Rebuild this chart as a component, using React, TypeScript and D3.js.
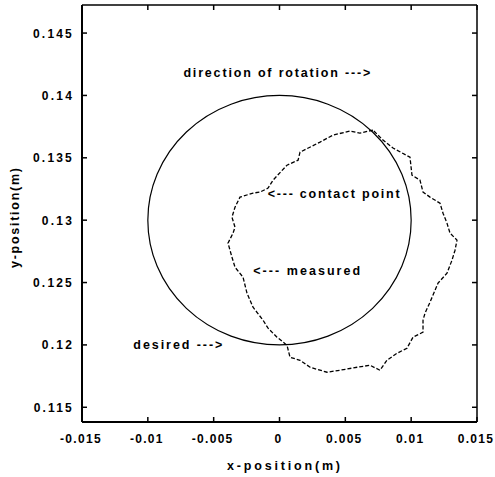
import React from 'react';
import * as d3 from 'd3';

// desired path: circle centred at (0, 0.13) with 0.01 m radius
const desiredCenter = [0, 0.13];
const desiredRadius = 0.01;

// measured contact point path
const measuredX = [
  0.0071, 0.0061, 0.00535, 0.00406, 0.00308, 0.00156, 0.00141, 0.00057, -0.00049, -0.00087,
  -0.00148, -0.00201, -0.003, -0.00338, -0.00361, -0.00338, -0.00353, -0.00391, -0.00361, -0.00338,
  -0.00277, -0.00247, -0.00201, -0.00125, -0.00087, -0.00019, 0.00057, 0.0008, 0.00156, 0.00232,
  0.00361, 0.0046, 0.00589, 0.00687, 0.00763, 0.00816, 0.00892, 0.00968, 0.01014, 0.0109,
  0.0109, 0.01105, 0.01143, 0.01204, 0.01272, 0.0131, 0.01333, 0.01348, 0.01295, 0.01272,
  0.01242, 0.01219, 0.01143, 0.0109, 0.01067, 0.01006, 0.00991, 0.00862, 0.00786, 0.0071
];
const measuredY = [
  0.13722, 0.13698, 0.13714, 0.13682, 0.13626, 0.13545, 0.13481, 0.13441, 0.13321, 0.13257,
  0.13225, 0.13217, 0.13185, 0.13104, 0.13024, 0.12944, 0.12896, 0.12816, 0.12703, 0.12623,
  0.12543, 0.12415, 0.12302, 0.12198, 0.12134, 0.12062, 0.11997, 0.11901, 0.11877, 0.11821,
  0.11781, 0.11797, 0.11821, 0.11837, 0.11797, 0.11877, 0.11933, 0.11973, 0.12062, 0.12102,
  0.12198, 0.12254, 0.12342, 0.12495, 0.12575, 0.12679, 0.12759, 0.1284, 0.12896, 0.12976,
  0.13056, 0.13136, 0.13185, 0.13225, 0.13321, 0.13361, 0.13505, 0.13578, 0.13642, 0.13722
];

const xTicks = [-0.015, -0.01, -0.005, 0, 0.005, 0.01, 0.015];
const xTickLabels = ['-0.015', '-0.01', '-0.005', '0', '0.005', '0.01', '0.015'];
const yTicks = [0.115, 0.12, 0.125, 0.13, 0.135, 0.14, 0.145];
const yTickLabels = ['0.115', '0.12', '0.125', '0.13', '0.135', '0.14', '0.145'];

const notes = [
  { text: 'direction of rotation --->', x: -0.0073, y: 0.1415, len: 187 },
  { text: '<--- contact point', x: -0.0009, y: 0.1318, len: 132 },
  { text: '<--- measured', x: -0.002, y: 0.1256, len: 107 },
  { text: 'desired --->', x: -0.0111, y: 0.1197, len: 89 }
];

const W = 495;
const H = 477;
const margin = { top: 5, right: 18, bottom: 55, left: 82 };
const font = '"Liberation Sans", Arial, sans-serif';

const App = () => {
  const x = d3.scaleLinear()
    .domain([-0.015, 0.015])
    .range([margin.left, W - margin.right]);
  const y = d3.scaleLinear()
    .domain([0.11382, 0.14725])
    .range([H - margin.bottom, margin.top]);

  const pts = measuredX.map((v, i) => [v, measuredY[i]] as [number, number]);
  const line = d3.line<[number, number]>()
    .x(d => x(d[0]))
    .y(d => y(d[1]));

  const x0 = margin.left, x1 = W - margin.right;
  const y0 = margin.top, y1 = H - margin.bottom;
  const tick = 5;

  return (
    <svg width={W} height={H} style={{ position: 'absolute', left: 0, top: 0, background: '#fff' }}
      fontFamily={font} fontWeight="bold">
      {/* frame */}
      <line x1={x0} y1={y0} x2={x1} y2={y0} stroke="#000" strokeWidth={1.5} />
      <line x1={x1} y1={y0} x2={x1} y2={y1} stroke="#000" strokeWidth={1.5} />
      <line x1={x0} y1={y0} x2={x0} y2={y1} stroke="#000" strokeWidth={2} />
      <line x1={x0} y1={y1} x2={x1} y2={y1} stroke="#000" strokeWidth={2} />

      {xTicks.map((t, i) => (
        <g key={'x' + i}>
          <line x1={x(t)} x2={x(t)} y1={y1} y2={y1 - tick} stroke="#000" strokeWidth={1.5} />
          <line x1={x(t)} x2={x(t)} y1={y0} y2={y0 + tick} stroke="#000" strokeWidth={1.5} />
          <text x={x(t) - 1} y={y1 + 21} textAnchor="middle" fontSize={12} letterSpacing={1.3}>
            {xTickLabels[i]}
          </text>
        </g>
      ))}
      {yTicks.map((t, i) => (
        <g key={'y' + i}>
          <line x1={x0} x2={x0 + tick} y1={y(t)} y2={y(t)} stroke="#000" strokeWidth={1.5} />
          <line x1={x1} x2={x1 - tick} y1={y(t)} y2={y(t)} stroke="#000" strokeWidth={1.5} />
          <text x={x0 - 8} y={y(t) + 4.5} textAnchor="end" fontSize={12} letterSpacing={2.2}>
            {yTickLabels[i]}
          </text>
        </g>
      ))}

      {/* desired circle */}
      <ellipse cx={x(desiredCenter[0])} cy={y(desiredCenter[1])}
        rx={x(desiredRadius) - x(0)} ry={y(desiredCenter[1]) - y(desiredCenter[1] + desiredRadius)}
        fill="none" stroke="#000" strokeWidth={1.2} />

      {/* measured */}
      <path d={line(pts) || ''} fill="none" stroke="#000" strokeWidth={1.3} strokeDasharray="4,2" />

      {notes.map((n, i) => (
        <text key={i} x={x(n.x)} y={y(n.y)} fontSize={12.5} textLength={n.len}
          lengthAdjust="spacing">{n.text}</text>
      ))}

      <text x={227} y={H - 7} fontSize={12.5} textLength={113} lengthAdjust="spacing">
        x-position(m)
      </text>
      <text transform="translate(19,268) rotate(-90)" fontSize={12.5} textLength={100}
        lengthAdjust="spacing">
        y-position(m)
      </text>
    </svg>
  );
};

export default App;
